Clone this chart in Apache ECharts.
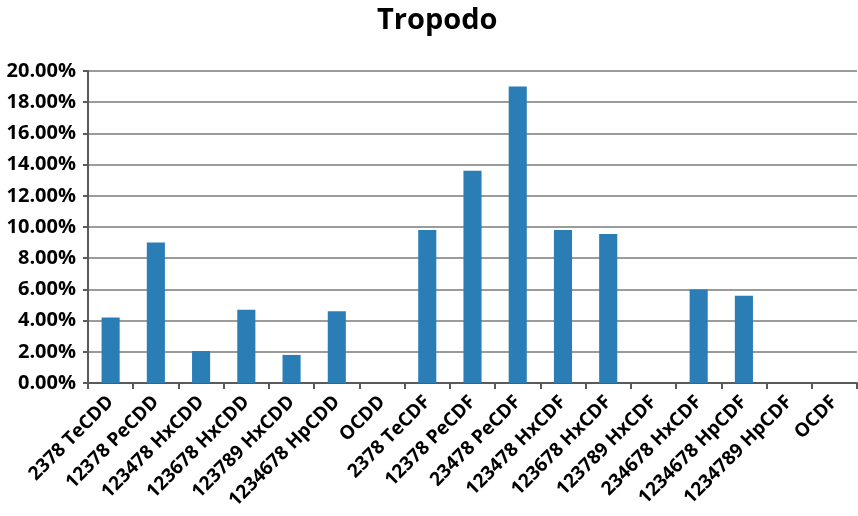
<!DOCTYPE html>
<html>
<head>
<meta charset="utf-8">
<script src="https://cdn.jsdelivr.net/npm/echarts@6/dist/echarts.min.js"></script>
<style>html,body{margin:0;padding:0;background:#fff}#c{width:858px;height:516px}</style>
</head>
<body>
<div id="c"></div>
<script>
const titleText = 'Tropodo';
const categories = ['2378 TeCDD','12378 PeCDD','123478 HxCDD','123678 HxCDD','123789 HxCDD','1234678 HpCDD','OCDD','2378 TeCDF','12378 PeCDF','23478 PeCDF','123478 HxCDF','123678 HxCDF','123789 HxCDF','234678 HxCDF','1234678 HpCDF','1234789 HpCDF','OCDF'];
const values = [4.2, 9.0, 2.05, 4.7, 1.8, 4.6, 0, 9.8, 13.6, 19.0, 9.8, 9.55, 0, 6.0, 5.6, 0, 0];

const chart = echarts.init(document.getElementById('c'), null, {renderer: 'canvas'});
const font = '"Open Sans", "DejaVu Sans", sans-serif';
chart.setOption({
  animation: false,
  title: {
    text: titleText, left: 372, top: 1,
    textStyle: {fontFamily: font, fontWeight: 'bold', fontSize: 29, color: '#000'}
  },
  grid: {left: 88, right: 1, top: 71, bottom: 133},
  xAxis: {
    type: 'category', data: categories,
    axisLine: {lineStyle: {color: '#5a5a5a', width: 2}},
    axisTick: {show: true, length: 6, lineStyle: {color: '#5a5a5a', width: 2}, alignWithLabel: false},
    axisLabel: {rotate: 45, interval: 0, fontFamily: font, fontWeight: 'bold', fontSize: 19, color: '#000', margin: 16}
  },
  yAxis: {
    type: 'value', min: 0, max: 20, interval: 2,
    axisLine: {show: true, lineStyle: {color: '#5a5a5a', width: 2}},
    axisTick: {show: true, length: 5, lineStyle: {color: '#5a5a5a', width: 2}},
    splitLine: {lineStyle: {color: '#7a7a7a', width: 1.5}},
    axisLabel: {formatter: v => v.toFixed(2) + '%', fontFamily: font, fontWeight: 'bold', fontSize: 20, color: '#000', margin: 12}
  },
  series: [{
    type: 'bar', data: values, barWidth: '40%',
    itemStyle: {color: '#2a7db5'}
  }]
});
</script>
</body>
</html>
